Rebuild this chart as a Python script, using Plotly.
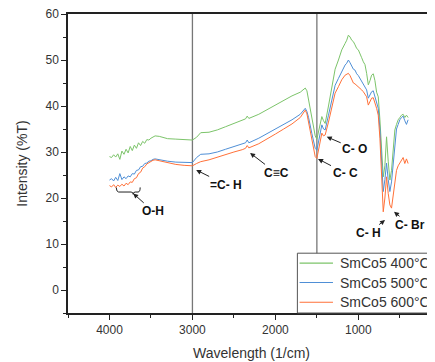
import plotly.graph_objects as go

# Wavenumber (1/cm)
wavenumber = [4000, 3975, 3950, 3925, 3900, 3875, 3850, 3825, 3800, 3775, 3750, 3725, 3700, 3675,
              3650, 3625, 3600, 3575, 3550, 3525, 3500, 3475, 3450, 3400, 3350, 3300, 3200, 3100,
              3000, 2950, 2900, 2800, 2700, 2600, 2500, 2400, 2360, 2340, 2320, 2200, 2100, 2000,
              1900, 1800, 1700, 1660, 1640, 1620, 1600, 1560, 1520, 1500, 1470, 1440, 1420, 1400,
              1360, 1320, 1280, 1240, 1200, 1160, 1140, 1120, 1100, 1080, 1060, 1040, 1020, 1000,
              980, 960, 940, 920, 900, 880, 860, 840, 820, 800, 780, 760, 740, 720, 700, 680, 660,
              640, 620, 600, 580, 560, 540, 520, 500, 480, 460, 440, 420, 400]

t400 = [29.0, 28.8, 29.4, 28.9, 29.6, 28.4, 30.2, 29.5, 30.6, 29.8, 31.2, 30.3, 31.5, 30.8,
        32.0, 31.4, 32.3, 31.9, 32.7, 32.6, 33.0, 33.3, 33.5, 33.4, 33.2, 32.9, 32.8, 32.7,
        32.6, 33.2, 34.2, 34.3, 34.8, 35.5, 36.2, 36.8, 37.2, 37.8, 37.3, 38.2, 39.2, 40.2,
        41.2, 42.2, 43.0, 43.6, 43.9, 43.3, 41.5, 37.5, 33.5, 32.8, 35.0, 37.7, 36.8, 36.2,
        40.0, 44.2, 48.0, 50.0, 52.2, 53.6, 54.3, 55.4, 55.0, 54.3, 54.0, 53.3, 52.5, 52.2,
        51.1, 50.5, 49.6, 49.0, 47.1, 44.6, 45.5, 46.7, 47.0, 45.5, 43.0, 42.0, 37.0, 30.0,
        24.6, 27.0, 33.3, 28.0, 23.9, 26.0, 30.0, 34.8, 36.0, 37.0, 37.5, 38.0, 38.2, 37.5,
        38.0, 37.5]

t500 = [23.9, 24.2, 23.7, 24.5, 23.8, 25.3, 24.0, 24.6, 24.2, 24.8, 24.6, 25.3, 25.2, 26.0,
        26.1, 26.8, 26.9, 27.5, 27.6, 28.0, 28.1, 28.4, 28.5, 28.3, 28.1, 28.0, 27.8, 27.7,
        27.7, 28.8, 29.5, 29.6, 30.0, 30.6, 31.2, 31.7, 32.0, 32.6, 32.0, 33.0, 34.0, 35.0,
        36.0, 37.0, 38.2, 39.2, 39.5, 38.8, 37.5, 34.0, 30.8, 30.4, 33.0, 35.9, 35.0, 34.8,
        38.0, 41.3, 44.5, 46.0, 47.5, 48.9, 49.3, 50.0, 49.4, 48.5, 48.0, 47.8, 47.0, 46.6,
        46.0, 45.5, 44.6, 44.3, 43.5, 41.7, 42.5, 43.1, 43.3, 42.0, 40.6, 39.5, 35.0, 28.0,
        21.4, 24.0, 27.6, 24.0, 21.4, 23.5, 27.5, 32.0, 35.0, 36.0, 37.0, 37.5, 37.8, 36.8,
        36.0, 37.0]

t600 = [22.7, 22.4, 22.9, 22.3, 22.8, 22.5, 23.0, 22.6, 23.2, 22.9, 23.5, 23.4, 24.2, 24.4,
        25.3, 25.6, 26.5, 26.8, 27.4, 27.7, 28.0, 28.2, 28.3, 28.1, 27.8, 27.6, 27.3, 27.1,
        27.0, 27.5, 27.9, 28.3, 28.9, 29.5, 30.0, 30.5, 30.8, 31.4, 30.9, 31.8, 32.8, 33.9,
        35.0, 36.1, 37.5, 38.5, 39.1, 38.3, 36.5, 32.5, 29.0, 28.6, 31.0, 34.1, 33.5, 33.7,
        36.5, 39.9, 42.8, 44.2, 45.7, 46.7, 46.9, 47.1, 46.6, 45.8, 45.0, 44.8, 44.5, 44.2,
        44.0, 43.5, 43.1, 42.6, 42.0, 40.2, 41.0, 41.7, 41.8, 40.8, 39.5, 38.0, 33.0, 25.0,
        17.0, 20.0, 24.6, 21.0, 18.5, 17.8, 21.0, 24.0, 26.0, 27.0, 27.6, 27.9, 28.8, 27.5,
        28.5, 27.5]

series_names = ["SmCo5 400°C", "SmCo5 500°C", "SmCo5 600°C"]
series_colors = ["#7cc46a", "#4f8fd6", "#ff7139"]

x_ticks = [4000, 3000, 2000, 1000]
y_ticks = [0, 10, 20, 30, 40, 50, 60]

# Band labels: (text, arrow-head wavenumber, arrow-head value, dx, dy)
bands = [
    ("O-H", 3714, 21.0, 20, 18),
    ("=C- H", 2955, 26.1, 30, 15),
    ("C≡C", 2305, 29.8, 26, 20),
    ("C- C", 1486, 28.5, 27, 14),
    ("C- O", 1381, 33.3, 28, 12),
    ("C- H", 678, 15.2, -17, 13),
    ("C- Br", 570, 17.0, 16, 13),
]

fig = go.Figure()
for name, ys, col in zip(series_names, [t400, t500, t600], series_colors):
    fig.add_trace(go.Scatter(x=wavenumber, y=ys, mode="lines", name=name,
                             line=dict(color=col, width=1), showlegend=False))

# vertical reference lines
for xv in [3000, 1500]:
    fig.add_shape(type="line", xref="x", yref="paper", x0=xv, x1=xv, y0=0, y1=1,
                  line=dict(color="#777777", width=1.3), layer="below")

# O-H bracket
fig.add_shape(type="path", xref="x", yref="y",
              path="M 3919,22.3 Q 3915,21.3 3890,21.3 L 3740,21.3 Q 3714,21.3 3714,20.8 "
                   "Q 3714,21.3 3690,21.3 L 3655,21.3 Q 3630,21.3 3630,22.3",
              line=dict(color="#222222", width=1))

for text, xh, yh, dx, dy in bands:
    fig.add_annotation(x=xh, y=yh, xref="x", yref="y", text="<b>%s</b>" % text,
                       showarrow=True, arrowhead=2, arrowsize=1, arrowwidth=1,
                       arrowcolor="#222222", ax=dx, ay=dy,
                       font=dict(family="Liberation Sans, Arial", size=12, color="#111111"))

# legend box (manual so it can be cut by the window edge like the original)
fig.add_shape(type="rect", xref="paper", yref="paper", x0=0.625, x1=1.2, y0=0.0, y1=0.2,
              fillcolor="white", line=dict(color="#555555", width=1), layer="above")
leg_y = [0.167, 0.102, 0.036]
for name, col, ly in zip(series_names, series_colors, leg_y):
    fig.add_shape(type="line", xref="paper", yref="paper", x0=0.631, x1=0.722, y0=ly, y1=ly,
                  line=dict(color=col, width=1.2), layer="above")
    fig.add_annotation(x=0.735, y=ly, xref="paper", yref="paper", text=name, showarrow=False,
                       xanchor="left", yanchor="middle",
                       font=dict(family="Liberation Sans, Arial", size=14, color="#333333"))

axis_font = dict(family="Liberation Sans, Arial", size=12, color="#333333")
fig.update_xaxes(range=[4500, 76], tickvals=x_ticks, ticks="outside", ticklen=5, tickwidth=1.3,
                 tickcolor="#222222", showline=True, linecolor="#222222", linewidth=1.5,
                 mirror=True, showgrid=False, zeroline=False, tickfont=axis_font,
                 minor=dict(dtick=500, ticks="outside", ticklen=3, tickwidth=1.2, tickcolor="#222222"),
                 title=dict(text="Wavelength (1/cm)", font=dict(family="Liberation Sans, Arial", size=14, color="#333333"),
                            standoff=12))
fig.update_yaxes(range=[-5, 60], tickvals=y_ticks, ticks="outside", ticklen=5, tickwidth=1.3,
                 tickcolor="#222222", showline=True, linecolor="#222222", linewidth=1.5,
                 showgrid=False, zeroline=False, tickfont=axis_font, ticklabeloverflow="allow",
                 minor=dict(dtick=5, ticks="outside", ticklen=3, tickwidth=1.2, tickcolor="#222222"),
                 title=dict(text="Intensity (%T)", font=dict(family="Liberation Sans, Arial", size=14, color="#333333"),
                            standoff=15))

# the page body adds an 8px offset, so the figure is 8px smaller and margins shifted
fig.update_layout(width=427, height=354, margin=dict(l=60, r=0, t=6, b=49, autoexpand=False),
                  plot_bgcolor="white", paper_bgcolor="white", showlegend=False)

fig.write_html("out.html")
